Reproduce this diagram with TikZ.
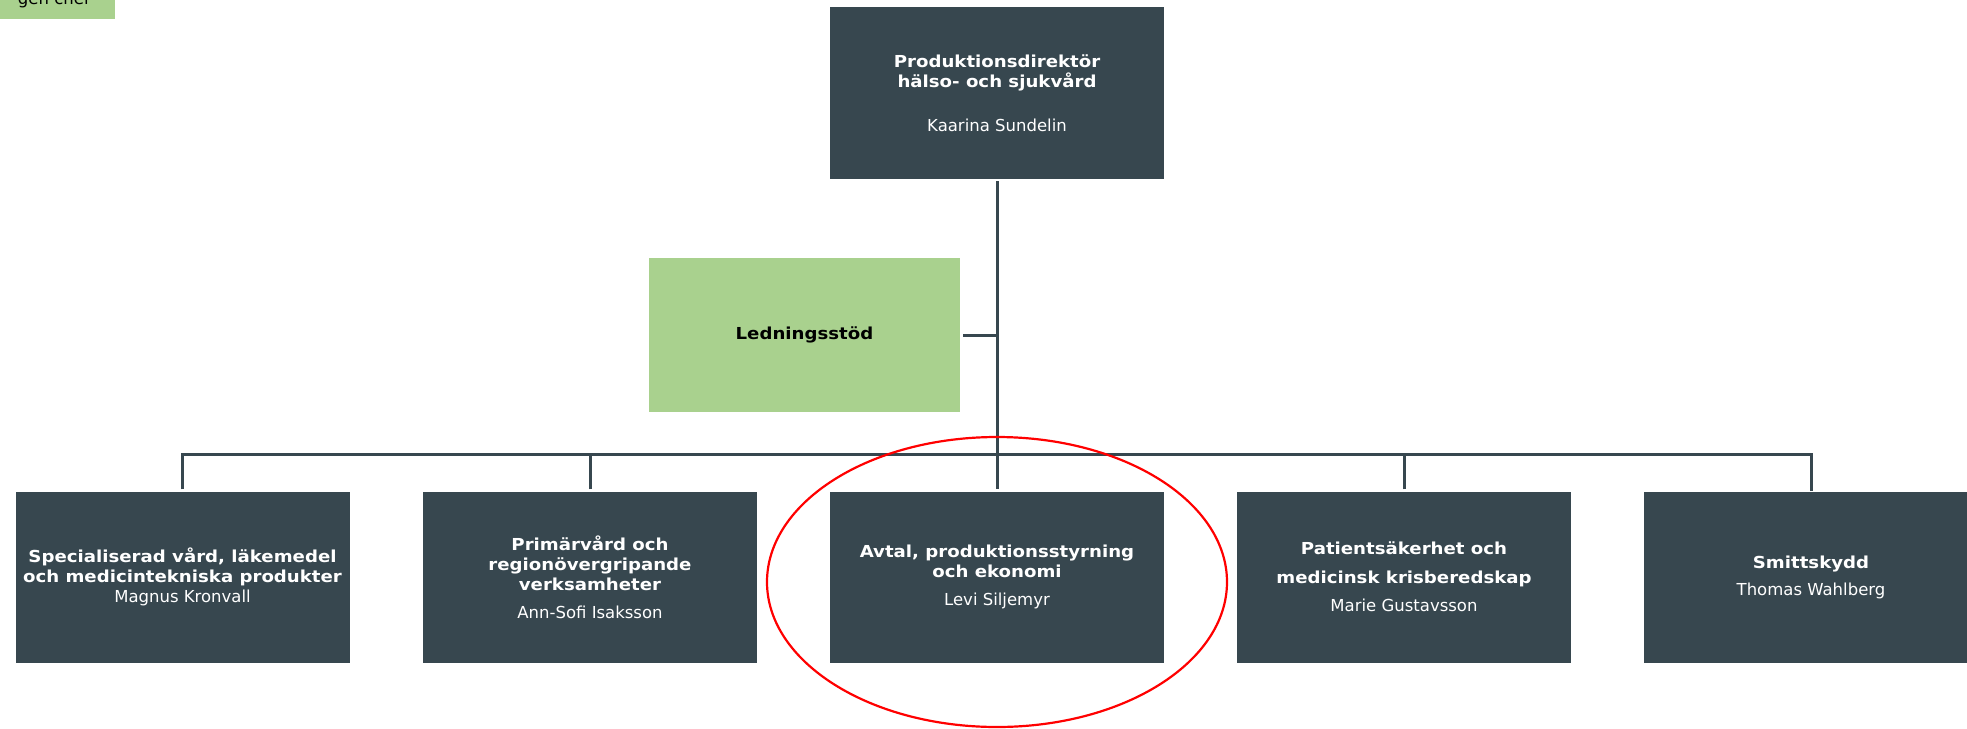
\documentclass[tikz,border=0pt]{standalone}
\usepackage{fontspec}
\setmainfont{DejaVu Sans}[BoldFeatures={FakeStretch=1.1}]
\usepackage{tikz}
\definecolor{boxgrey}{HTML}{37474F}
\definecolor{leadgreen}{HTML}{A9D18E}
\begin{document}
\begin{tikzpicture}[x=1pt, y=-1pt,
  unit/.style={rectangle, fill=boxgrey, text=white, minimum width=334pt, minimum height=171pt, inner sep=0pt, align=center, font=\fontsize{16.5}{20}\selectfont},
  support/.style={rectangle, fill=leadgreen, text=black, minimum width=311pt, minimum height=154pt, inner sep=0pt, align=center, font=\fontsize{16.5}{20}\selectfont\bfseries},
  link/.style={draw=boxgrey, line width=3pt}]
\clip (0,0) rectangle (1967,728);
% cut-off box in the corner
\fill[leadgreen] (0,0) rectangle (115,19);
\node[anchor=base east, inner sep=0pt, font=\fontsize{16.5}{20}\selectfont] (chef) at (90,5) {gen chef};
% boxes
\node[unit, minimum height=172pt] (top) at (997,93) {\textbf{Produktionsdirektör}\\\textbf{hälso- och sjukvård}\\[24pt]Kaarina Sundelin};
\node[support] (stod) at (804.5,335) {Ledningsstöd};
\node[unit] (spec) at (182.5,577) {\textbf{Specialiserad vård, läkemedel}\\\textbf{och medicintekniska produkter}\\Magnus Kronvall};
\node[unit] (prim) at (590,577) {\textbf{Primärvård och}\\\textbf{regionövergripande}\\\textbf{verksamheter}\\[8pt]Ann-Sofi Isaksson};
\node[unit] (avtal) at (997,577) {\textbf{Avtal, produktionsstyrning}\\\textbf{och ekonomi}\\[8pt]Levi Siljemyr};
\node[unit] (pat) at (1404,577) {\textbf{Patientsäkerhet och}\\[9pt]\textbf{medicinsk krisberedskap}\\[8pt]Marie Gustavsson};
\node[unit] (smitt) at (1811,577) {\textbf{Smittskydd}\\[7pt]Thomas Wahlberg};
% lines
\coordinate (bus) at (997,454);
\draw[link, shorten <=2pt, shorten >=2pt] (top.south) -- (avtal.north);
\draw[link, shorten <=3pt] (stod.east) -- (stod.east -| bus);
\draw[link, shorten <=2pt] (spec.north) -- (spec.north |- bus) -- (smitt.north |- bus) -- (smitt.north);
\draw[link, shorten <=2pt] (prim.north) -- (prim.north |- bus);
\draw[link, shorten <=2pt] (pat.north) -- (pat.north |- bus);
% red ring
\draw[red, line width=2.2pt] (997,582) ellipse [x radius=230, y radius=145];
\end{tikzpicture}
\end{document}
